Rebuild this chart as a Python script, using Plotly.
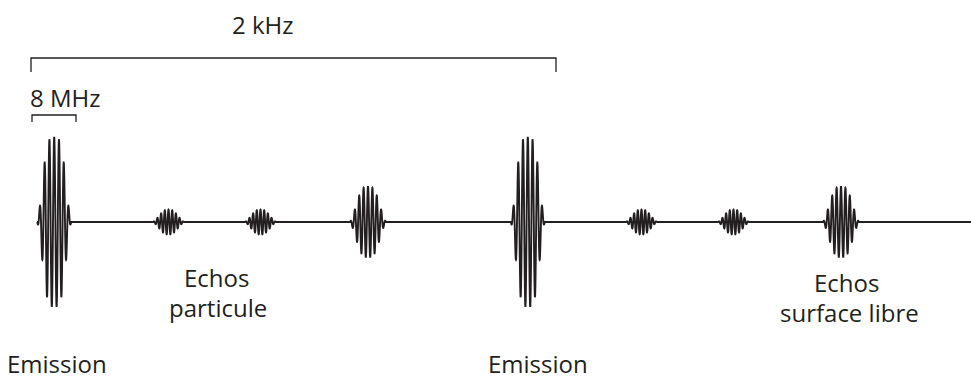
import numpy as np
import plotly.graph_objects as go

# ---- data (pixel-like time units, amplitude in px) ----
pulse_kind = ["Emission", "Echo particule", "Echo particule", "Echo surface libre",
              "Emission", "Echo particule", "Echo particule", "Echo surface libre"]
pulse_center = [54.2, 168.5, 260.5, 368.0, 527.8, 641.5, 733.5, 841.0]
pulse_amplitude = [85.0, 12.5, 12.5, 35.5, 85.0, 12.5, 12.5, 35.5]
pulse_half_width = [17.0, 15.5, 15.5, 18.0, 17.0, 15.5, 15.5, 18.0]
carrier_period = [4.8, 3.7, 3.7, 4.4, 4.8, 3.7, 3.7, 4.4]
envelope_power = [3.6, 2.5, 2.5, 3.0, 3.6, 2.5, 2.5, 3.0]
trace_start = 37.0
trace_end = 971.0

# ---- build the signal from the pulse list ----
t = np.arange(trace_start, trace_end, 0.05)
signal = np.zeros_like(t)
for c, a, hw, p, n in zip(pulse_center, pulse_amplitude, pulse_half_width,
                          carrier_period, envelope_power):
    u = t - c
    inside = np.abs(u) <= hw
    w = hw / 1.3
    env = np.exp(-np.abs(u / w) ** n) - np.exp(-(hw / w) ** n)
    env = env / (1 - np.exp(-(hw / w) ** n))
    signal += np.where(inside, a * env * np.sin(2 * np.pi * u / p + np.pi / 2), 0.0)

INK = "#231f20"
fig = go.Figure()
fig.add_trace(go.Scatter(x=t, y=signal, mode="lines",
                         line=dict(color=INK, width=1.9, simplify=False),
                         hoverinfo="skip", showlegend=False))

# brackets (y in px above baseline)
def bracket(x0, x1, ytop, ybot):
    fig.add_shape(type="path",
                  path=f"M {x0},{ybot} L {x0},{ytop} L {x1},{ytop} L {x1},{ybot}",
                  line=dict(color=INK, width=1.3), xref="x", yref="y")

bracket(31, 556, 164, 150)
bracket(32, 76, 107, 100)

FONT = dict(family="Open Sans", size=24, color=INK)
labels = [
    ("2 kHz", 263, 198, "middle"),
    ("8 MHz", 65.5, 125, "middle"),
    ("Echos", 216, -55, "middle"),
    ("particule", 218, -85, "middle"),
    ("Echos", 846, -60, "middle"),
    ("surface libre", 849, -90, "middle"),
    ("Emission", 56.5, -158.5, "bottom"),
    ("Emission", 538, -158.5, "bottom"),
]
for txt, x, y, ya in labels:
    fig.add_annotation(x=x, y=y, text=txt, showarrow=False, font=FONT,
                       xanchor="center", yanchor=ya, borderpad=0)

fig.update_layout(width=971, height=381, margin=dict(l=0, r=0, t=0, b=0),
                  paper_bgcolor="white", plot_bgcolor="white")
fig.update_xaxes(range=[0, 971], visible=False)
fig.update_yaxes(range=[-159, 222], visible=False)
fig.write_html("out.html", config={"displayModeBar": False},
               post_script="document.body.style.margin='0';")
